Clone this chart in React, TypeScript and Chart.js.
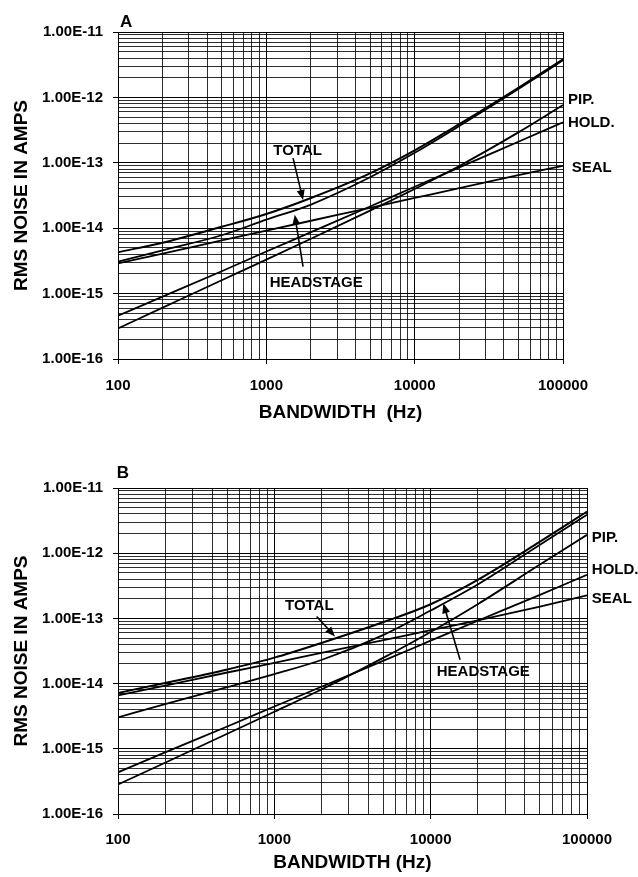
import React, { useEffect, useRef } from 'react';
import { Chart, registerables } from 'chart.js';

Chart.register(...registerables);

// ---------------- DATA ----------------
const FREQ = [100, 200, 500, 1000, 2000, 5000, 10000, 20000, 50000, 100000];

// Panel A
const A_TOTAL = [4.3e-15, 6.0e-15, 1.05e-14, 1.65e-14, 2.9e-14, 6.9e-14, 1.55e-13, 3.9e-13, 1.4e-12, 3.82e-12];
const A_HEADSTAGE = [3.08e-15, 4.6e-15, 7.8e-15, 1.35e-14, 2.3e-14, 6.0e-14, 1.42e-13, 3.65e-13, 1.34e-12, 3.7e-12];
const A_SEAL = [2.9e-15, 4.1e-15, 6.5e-15, 9.2e-15, 1.3e-14, 2.05e-14, 2.9e-14, 4.1e-14, 6.5e-14, 9.0e-14];
const A_HOLD = [4.6e-16, 9.0e-16, 2.2e-15, 4.4e-15, 8.7e-15, 2.15e-14, 4.3e-14, 8.5e-14, 2.1e-13, 4.16e-13];
const A_PIP = [2.94e-16, 6.1e-16, 1.6e-15, 3.3e-15, 6.9e-15, 1.86e-14, 3.98e-14, 8.96e-14, 2.92e-13, 7.66e-13];

// Panel B
const B_TOTAL = [7.2e-15, 1.02e-14, 1.65e-14, 2.5e-14, 4.2e-14, 8.8e-14, 1.65e-13, 3.9e-13, 1.5e-12, 4.34e-12];
const B_HEADSTAGE = [3.03e-15, 4.85e-15, 8.8e-15, 1.4e-14, 2.3e-14, 5.6e-14, 1.32e-13, 3.3e-13, 1.35e-12, 3.9e-12];
const B_SEAL = [6.6e-15, 9.3e-15, 1.48e-14, 2.08e-14, 2.95e-14, 4.65e-14, 6.6e-14, 9.3e-14, 1.52e-13, 2.25e-13];
const B_HOLD = [4.36e-16, 8.8e-16, 2.2e-15, 4.45e-15, 8.95e-15, 2.25e-14, 4.55e-14, 9.2e-14, 2.3e-13, 4.66e-13];
const B_PIP = [2.83e-16, 6.1e-16, 1.7e-15, 3.7e-15, 8.1e-15, 2.5e-14, 6.2e-14, 1.65e-13, 6.7e-13, 1.91e-12];

// Axes
const X_DECADES = [2, 3, 4, 5];
const X_TICK_LABELS = ['100', '1000', '10000', '100000'];
const Y_DECADES = [-16, -15, -14, -13, -12, -11];
const Y_TICK_LABELS = ['1.00E-16', '1.00E-15', '1.00E-14', '1.00E-13', '1.00E-12', '1.00E-11'];

const SERIES_NAMES = ['TOTAL', 'HEADSTAGE', 'SEAL', 'HOLD.', 'PIP.'];

// ---------------- STYLE / ANNOTATIONS ----------------
const FONT = "'Liberation Sans', Arial, Helvetica, sans-serif";

type Note = { text: string; f: number; v: number; size: number };
type Arrow = { from: [number, number]; to: [number, number] };

const A_NOTES: Note[] = [
  { text: 'A', f: 103, v: 1.2e-11, size: 17 },
  { text: 'PIP.', f: 1.08e5, v: 7.9e-13, size: 15 },
  { text: 'HOLD.', f: 1.08e5, v: 3.56e-13, size: 15 },
  { text: 'SEAL', f: 1.146e5, v: 7.3e-14, size: 15 },
  { text: 'TOTAL', f: 1114, v: 1.32e-13, size: 15 },
  { text: 'HEADSTAGE', f: 1054, v: 1.28e-15, size: 15 },
];
const A_ARROWS: Arrow[] = [
  { from: [1514, 1.18e-13], to: [1768, 2.7e-14] },
  { from: [1768, 2.58e-15], to: [1554, 1.6e-14] },
];
const B_NOTES: Note[] = [
  { text: 'B', f: 98.1, v: 1.41e-11, size: 17 },
  { text: 'PIP.', f: 1.074e5, v: 1.51e-12, size: 15 },
  { text: 'HOLD.', f: 1.074e5, v: 4.76e-13, size: 15 },
  { text: 'SEAL', f: 1.074e5, v: 1.71e-13, size: 15 },
  { text: 'TOTAL', f: 1170, v: 1.35e-13, size: 15 },
  { text: 'HEADSTAGE', f: 10940, v: 1.32e-14, size: 15 },
];
const B_ARROWS: Arrow[] = [
  { from: [1866, 1.07e-13], to: [2443, 5.28e-14] },
  { from: [15420, 2.32e-14], to: [12050, 1.71e-13] },
];

function buildTicks(decades: number[]) {
  const ticks: { value: number; major: boolean }[] = [];
  decades.forEach((e, i) => {
    const last = i === decades.length - 1;
    for (let k = 1; k <= (last ? 1 : 9); k++) {
      ticks.push({ value: parseFloat(`${k}e${e}`), major: k === 1 });
    }
  });
  return ticks;
}

function notesPlugin(notes: Note[], arrows: Arrow[]) {
  return {
    id: 'notes',
    afterDatasetsDraw(chart: any) {
      const { ctx } = chart;
      const xs = chart.scales.x;
      const ys = chart.scales.y;
      ctx.save();
      ctx.fillStyle = '#000';
      ctx.strokeStyle = '#000';
      ctx.textAlign = 'left';
      ctx.textBaseline = 'alphabetic';
      for (const n of notes) {
        ctx.font = `bold ${n.size}px ${FONT}`;
        ctx.fillText(n.text, xs.getPixelForValue(n.f), ys.getPixelForValue(n.v));
      }
      for (const a of arrows) {
        const x1 = xs.getPixelForValue(a.from[0]);
        const y1 = ys.getPixelForValue(a.from[1]);
        const x2 = xs.getPixelForValue(a.to[0]);
        const y2 = ys.getPixelForValue(a.to[1]);
        const ang = Math.atan2(y2 - y1, x2 - x1);
        const L = 10;
        const W = 4;
        const c = Math.cos(ang);
        const s = Math.sin(ang);
        ctx.lineWidth = 1.6;
        ctx.beginPath();
        ctx.moveTo(x1, y1);
        ctx.lineTo(x2 - c * L * 0.6, y2 - s * L * 0.6);
        ctx.stroke();
        ctx.beginPath();
        ctx.moveTo(x2, y2);
        ctx.lineTo(x2 - L * c + W * s, y2 - L * s - W * c);
        ctx.lineTo(x2 - L * c - W * s, y2 - L * s + W * c);
        ctx.closePath();
        ctx.fill();
      }
      ctx.restore();
    },
  };
}

type Panel = {
  series: number[][];
  notes: Note[];
  arrows: Arrow[];
  height: number;
  padTop: number;
  padRight: number;
  xHeight: number;
  xTickPad: number;
  xTitle: string;
  xTitlePad: number;
};

function makeConfig(p: Panel): any {
  const gridColor = (ctx: any) => (ctx.tick && ctx.tick.major ? '#000' : 'rgba(0,0,0,0.82)');
  const tickColor = (ctx: any) => (ctx.tick && ctx.tick.major ? '#000' : 'rgba(0,0,0,0)');
  return {
    type: 'line',
    data: {
      datasets: p.series.map((vals, i) => ({
        label: SERIES_NAMES[i],
        data: FREQ.map((f, j) => ({ x: f, y: vals[j] })),
        borderColor: '#000',
        backgroundColor: '#000',
        borderWidth: i === 0 ? 2 : 1.8,
        pointRadius: 0,
        cubicInterpolationMode: 'monotone',
        fill: false,
      })),
    },
    options: {
      responsive: false,
      animation: false,
      events: [],
      layout: { padding: { top: p.padTop, right: p.padRight, left: 0, bottom: 0 } },
      plugins: { legend: { display: false }, tooltip: { enabled: false }, title: { display: false } },
      scales: {
        x: {
          type: 'logarithmic',
          position: 'bottom',
          min: 100,
          max: 100000,
          afterBuildTicks: (scale: any) => {
            scale.ticks = buildTicks(X_DECADES);
          },
          afterFit: (scale: any) => {
            scale.height = p.xHeight;
          },
          ticks: {
            autoSkip: false,
            maxRotation: 0,
            minRotation: 0,
            padding: p.xTickPad,
            color: '#000',
            font: { family: FONT, size: 15, weight: 'bold' },
            callback: (value: number, index: number, ticks: any[]) => {
              if (!ticks[index] || !ticks[index].major) return '';
              const e = Math.round(Math.log10(value));
              return X_TICK_LABELS[X_DECADES.indexOf(e)];
            },
          },
          grid: { color: gridColor, lineWidth: 1, drawTicks: true, tickLength: 5, tickColor, tickWidth: 1 },
          border: { display: true, color: '#000', width: 1 },
          title: {
            display: true,
            text: p.xTitle,
            color: '#000',
            font: { family: FONT, size: 19, weight: 'bold' },
            padding: { top: 0, bottom: p.xTitlePad },
          },
        },
        y: {
          type: 'logarithmic',
          position: 'left',
          min: 1e-16,
          max: 1e-11,
          afterBuildTicks: (scale: any) => {
            scale.ticks = buildTicks(Y_DECADES);
          },
          afterFit: (scale: any) => {
            scale.width = 118;
          },
          ticks: {
            autoSkip: false,
            padding: 10,
            color: '#000',
            font: { family: FONT, size: 15, weight: 'bold' },
            callback: (value: number, index: number, ticks: any[]) => {
              if (!ticks[index] || !ticks[index].major) return '';
              const e = Math.round(Math.log10(value));
              return Y_TICK_LABELS[Y_DECADES.indexOf(e)];
            },
          },
          grid: { color: gridColor, lineWidth: 1, drawTicks: true, tickLength: 5, tickColor, tickWidth: 1 },
          border: { display: true, color: '#000', width: 1 },
          title: {
            display: true,
            text: 'RMS NOISE IN AMPS',
            color: '#000',
            font: { family: FONT, size: 19, weight: 'bold' },
            padding: { top: 10, bottom: 0 },
          },
        },
      },
    },
    plugins: [notesPlugin(p.notes, p.arrows)],
  };
}

const PANEL_A: Panel = {
  series: [A_TOTAL, A_HEADSTAGE, A_SEAL, A_HOLD, A_PIP],
  notes: A_NOTES,
  arrows: A_ARROWS,
  height: 440,
  padTop: 32,
  padRight: 75,
  xHeight: 81,
  xTickPad: 13,
  xTitle: 'BANDWIDTH  (Hz)',
  xTitlePad: 16,
};

const PANEL_B: Panel = {
  series: [B_TOTAL, B_HEADSTAGE, B_SEAL, B_HOLD, B_PIP],
  notes: B_NOTES,
  arrows: B_ARROWS,
  height: 437,
  padTop: 48,
  padRight: 51,
  xHeight: 63,
  xTickPad: 12,
  xTitle: 'BANDWIDTH (Hz)',
  xTitlePad: 3,
};

function NoiseChart({ panel, top }: { panel: Panel; top: number }) {
  const ref = useRef<HTMLCanvasElement | null>(null);
  useEffect(() => {
    if (!ref.current) return;
    const chart = new Chart(ref.current, makeConfig(panel));
    return () => chart.destroy();
  }, [panel]);
  return (
    <canvas
      ref={ref}
      width={638}
      height={panel.height}
      style={{ position: 'absolute', left: 0, top, width: 638, height: panel.height, display: 'block' }}
    />
  );
}

export default function App() {
  return (
    <div style={{ position: 'absolute', left: 0, top: 0, width: 638, height: 877, background: '#fff', overflow: 'hidden' }}>
      <NoiseChart panel={PANEL_A} top={0} />
      <NoiseChart panel={PANEL_B} top={440} />
    </div>
  );
}
